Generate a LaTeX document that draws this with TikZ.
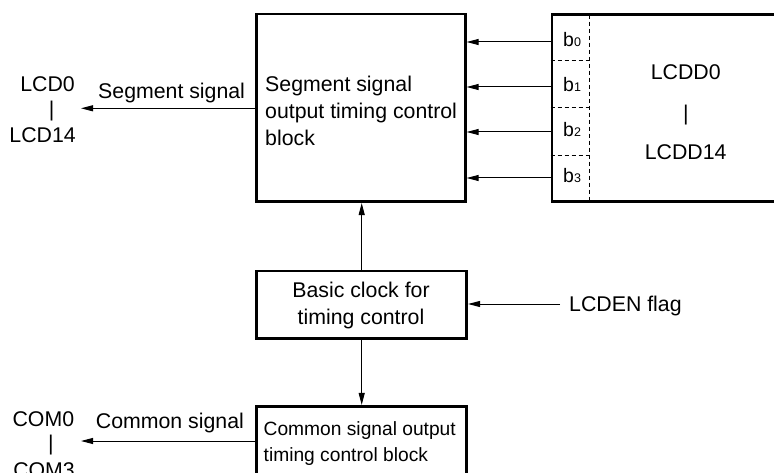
\documentclass[tikz,border=0pt]{standalone}
\usepackage{fontspec}
\setmainfont{Liberation Sans}
\usetikzlibrary{arrows.meta}
\begin{document}
\begin{tikzpicture}[x=1pt,y=-1pt,
  blk/.style={draw, line width=2.7pt, inner sep=0pt},
  sig/.style={line width=1pt, -{Triangle[length=12pt,width=6pt]}},
  txt/.style={inner sep=0pt, font=\fontsize{21.3}{26.7}\selectfont},
  ctxt/.style={inner sep=0pt, font=\fontsize{19.2}{26.7}\selectfont},
  dsh/.style={line width=1pt, dash pattern=on 4pt off 3pt}]
\useasboundingbox (0,0) rectangle (774,473);
% blocks
\node[blk, minimum width=209pt, minimum height=187.7pt] (seg) at (360.8,107.85) {};
\node[blk, minimum width=248pt, minimum height=187pt] (lcdd) at (676,108.2) {};
\node[blk, minimum width=210pt, minimum height=67.3pt] (clk) at (361.7,304.65) {};
\node[blk, minimum width=210.4pt, minimum height=93.4pt] (com) at (361.5,453) {};
% dashed subdivisions of LCDD
\coordinate (dtop) at (589,14.7);
\coordinate (dbot) at (589,201.7);
\draw[dsh] (dtop) -- (dbot);
\foreach \y/\n in {61/h1,108/h2,156/h3}{
  \coordinate (\n) at (589,\y);
  \draw[dsh] (lcdd.west |- \n) -- (\n);
}
% bit labels and arrows
\foreach \i/\y in {0/42,1/87,2/132,3/178}{
  \node[inner sep=0pt, font=\fontsize{19.5}{20}\selectfont, anchor=base west] (b\i) at (563,\y+4.5) {b{\fontsize{12.5}{12.5}\selectfont\i}};
  \coordinate (r\i) at (552,\y);
  \draw[sig] (r\i) -- (seg.east |- r\i);
}
% texts in blocks
\node[txt, anchor=base west, align=left] (segtxt) at (265,145.1) {Segment signal\\output timing control\\block};
\node[txt, anchor=base, align=center] (clktxt) at (361,324) {Basic clock for\\timing control};
\node[ctxt, anchor=base west, align=left] (comtxt) at (263.5,461.7) {Common signal output\\timing control block};
\node[txt, anchor=base] (lcdd0) at (685.7,80) {LCDD0};
\node[txt] (lcddbar) at (686,115.3) {|};
\node[txt, anchor=base] (lcdd14) at (685.7,160) {LCDD14};
% segment output
\coordinate (segend) at (81,108.3);
\draw[sig] (seg.west |- segend) -- (segend);
\node[txt, anchor=base west] (seglbl) at (98,98.3) {Segment signal};
\node[txt, anchor=base east] (lcd0) at (75,91.7) {LCD0};
\node[txt] (lcdbar) at (51.7,111) {|};
\node[txt, anchor=base east] (lcd14) at (76,142.7) {LCD14};
% clock arrows
\draw[sig] (clk.north) -- (clk.north |- seg.south);
\draw[sig] (clk.south) -- (clk.south |- com.north);
\coordinate (en) at (560,304);
\draw[sig] (en) -- (en -| clk.east);
\node[txt, anchor=base west] (enlbl) at (569,312) {LCDEN flag};
% common output
\coordinate (comend) at (81,441);
\draw[sig] (com.west |- comend) -- (comend);
\node[txt, anchor=base west] (comlbl) at (95.7,428.3) {Common signal};
\node[txt, anchor=base east] (com0) at (74.3,426.7) {COM0};
\node[txt] (combar) at (51,445) {|};
\node[txt, anchor=base east] (com3) at (75,477.7) {COM3};
\end{tikzpicture}
\end{document}
